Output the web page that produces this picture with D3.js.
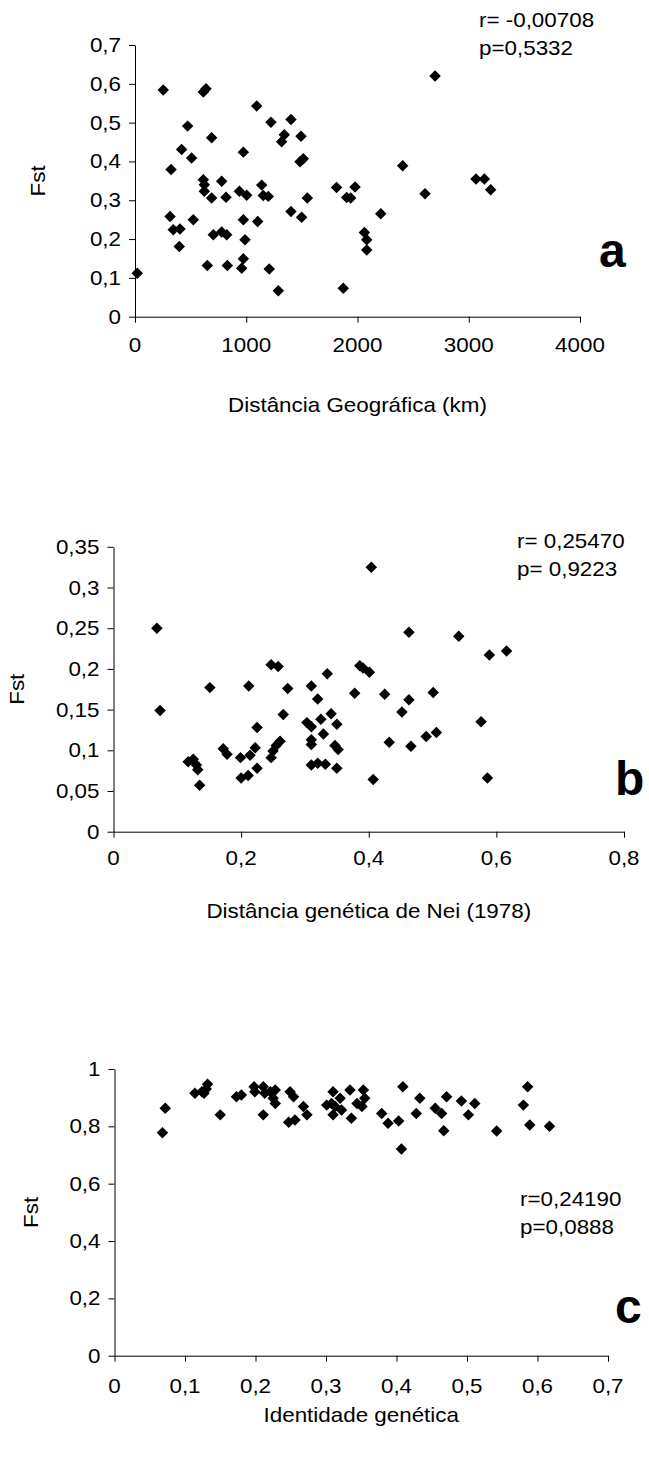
<!DOCTYPE html>
<html>
<head>
<meta charset="utf-8">
<script src="https://cdnjs.cloudflare.com/ajax/libs/d3/7.8.5/d3.min.js"></script>
<style>
  body { margin: 0; background: #fff; }
  svg text { font-family: "Liberation Sans", Arial, sans-serif; fill: #000; }
</style>
</head>
<body>
<svg id="chart" width="649" height="1457"></svg>
<script>
// panel a: Fst vs geographic distance
var distGeo = [20,254,315,324,344,404,398,419,473,509,524,614,623,623,614,638,650,689,689,704,
  779,779,818,824,830,938,959,974,974,974,989,1004,1094,1103,1139,1153,1198,1207,1222,1288,
  1318,1342,1402,1402,1483,1492,1498,1513,1549,1812,1872,1903,1939,1978,2062,2083,2083,2209,
  2406,2607,2697,3065,3140,3197];
var fstA = [0.112,0.584,0.258,0.379,0.224,0.226,0.181,0.431,0.491,0.409,0.25,0.353,0.34,0.323,
  0.579,0.587,0.132,0.461,0.306,0.211,0.349,0.218,0.308,0.211,0.132,0.323,0.125,0.149,0.424,0.25,
  0.198,0.313,0.543,0.245,0.339,0.312,0.31,0.123,0.501,0.067,0.451,0.469,0.508,0.271,0.399,0.465,
  0.256,0.407,0.306,0.333,0.073,0.307,0.306,0.334,0.217,0.198,0.172,0.265,0.389,0.317,0.62,0.355,
  0.355,0.327];

// panel b: Fst vs Nei genetic distance
var distNei = [0.068,0.073,0.117,0.125,0.130,0.132,0.135,0.151,0.172,0.178,0.199,0.200,0.211,0.212,
  0.214,0.222,0.225,0.225,0.247,0.247,0.250,0.255,0.258,0.261,0.266,0.273,0.303,0.310,0.310,0.310,
  0.310,0.310,0.320,0.320,0.329,0.325,0.332,0.335,0.341,0.350,0.347,0.352,0.350,0.378,0.386,0.391,
  0.401,0.404,0.407,0.425,0.432,0.452,0.463,0.463,0.466,0.490,0.501,0.506,0.541,0.576,0.586,0.589,
  0.616];
var fstB = [0.250,0.149,0.086,0.089,0.082,0.076,0.057,0.177,0.102,0.095,0.091,0.066,0.069,0.179,
  0.094,0.103,0.128,0.078,0.091,0.205,0.099,0.106,0.203,0.111,0.144,0.176,0.134,0.129,0.179,0.113,
  0.107,0.082,0.084,0.163,0.120,0.138,0.083,0.194,0.145,0.132,0.106,0.101,0.078,0.170,0.204,0.201,
  0.196,0.325,0.064,0.169,0.110,0.147,0.245,0.162,0.105,0.117,0.171,0.122,0.240,0.135,0.066,0.217,
  0.222];

// panel c: Fst vs genetic identity
var identGen = [0.068,0.072,0.114,0.124,0.127,0.132,0.130,0.150,0.173,0.180,0.198,0.199,0.211,0.213,
  0.221,0.228,0.225,0.228,0.211,0.249,0.254,0.247,0.268,0.273,0.256,0.301,0.308,0.310,0.310,0.313,
  0.320,0.322,0.334,0.336,0.344,0.351,0.353,0.355,0.379,0.388,0.403,0.407,0.409,0.428,0.433,0.455,
  0.464,0.467,0.471,0.492,0.502,0.511,0.542,0.580,0.586,0.589,0.617];
var fstC = [0.778,0.863,0.915,0.921,0.915,0.947,0.930,0.840,0.903,0.909,0.938,0.921,0.938,0.915,
  0.921,0.927,0.898,0.880,0.840,0.921,0.903,0.814,0.869,0.840,0.822,0.874,0.880,0.921,0.840,0.869,
  0.898,0.857,0.927,0.828,0.880,0.869,0.927,0.898,0.845,0.811,0.819,0.721,0.938,0.845,0.898,0.863,
  0.845,0.785,0.903,0.888,0.840,0.880,0.784,0.874,0.938,0.805,0.800];

// tick values
var xTicksA = [0,1000,2000,3000,4000];
var yTicksA = [0,0.1,0.2,0.3,0.4,0.5,0.6,0.7];
var xTicksB = [0,0.2,0.4,0.6,0.8];
var yTicksB = [0,0.05,0.1,0.15,0.2,0.25,0.3,0.35];
var xTicksC = [0,0.1,0.2,0.3,0.4,0.5,0.6,0.7];
var yTicksC = [0,0.2,0.4,0.6,0.8,1];

var FONT = 20;
var TEXT_SX = 1.12;   // the original labels are a bit wider than Arial

var comma = function(d) { return String(d).replace(".", ","); };

var svg = d3.select("#chart");
svg.append("rect").attr("width", 649).attr("height", 1457).attr("fill", "#fff");

var addText = function(g, x, y, str, anchor, size, weight, rot, sx) {
  var t = g.append("text")
    .attr("transform", "translate(" + x + "," + y + ")" + (rot ? " rotate(" + rot + ")" : "") +
      " scale(" + (sx || TEXT_SX) + ",1)")
    .attr("text-anchor", anchor)
    .attr("font-size", size)
    .text(str);
  if (weight) t.attr("font-weight", weight);
  return t;
};

var drawPanel = function(p) {
  var g = svg.append("g");
  var x = d3.scaleLinear().domain(p.xDomain).range([p.left, p.right]);
  var y = d3.scaleLinear().domain(p.yDomain).range([p.bottom, p.top]);

  var xAxis = g.append("g")
    .attr("transform", "translate(0," + p.bottom + ")")
    .call(d3.axisBottom(x).tickValues(p.xTicks).tickSize(6).tickSizeOuter(0).tickFormat(comma));
  var yAxis = g.append("g")
    .attr("transform", "translate(" + p.left + ",0)")
    .call(d3.axisLeft(y).tickValues(p.yTicks).tickSize(6).tickSizeOuter(0).tickFormat(comma));

  [xAxis, yAxis].forEach(function(a) {
    a.selectAll("path, line").attr("stroke", "#000").attr("stroke-width", 1);
    a.selectAll("text").remove();
  });
  // tick labels drawn by hand so they share the stretched text style
  p.xTicks.forEach(function(v) { addText(g, x(v), p.bottom + p.xLabelDy, comma(v), "middle", FONT); });
  p.yTicks.forEach(function(v) { addText(g, p.left - 14, y(v) + 7, comma(v), "end", FONT); });

  g.append("g").selectAll("path")
    .data(p.xs.map(function(d, i) { return [d, p.ys[i]]; }))
    .enter().append("path")
    .attr("d", d3.symbol(d3.symbolSquare, 66))
    .attr("transform", function(d) { return "translate(" + x(d[0]) + "," + y(d[1]) + ") rotate(45)"; })
    .attr("fill", "#000");

  addText(g, (p.left + p.right) / 2, p.bottom + p.titleDy, p.xTitle, "middle", FONT);
  addText(g, p.fstX, (p.top + p.bottom) / 2, "Fst", "middle", FONT, null, -90);
  addText(g, p.statX, p.statY, p.stat1, "start", FONT);
  addText(g, p.statX, p.statY + 28, p.stat2, "start", FONT);
  addText(g, p.letterX, p.letterY, p.letter, "start", 48, "bold", null, 1);
};

drawPanel({
  xs: distGeo, ys: fstA, xDomain: [0, 4000], yDomain: [0, 0.7],
  xTicks: xTicksA, yTicks: yTicksA,
  left: 135, right: 580, top: 45, bottom: 316.7,
  xLabelDy: 35, titleDy: 95, xTitle: "Distância Geográfica (km)",
  fstX: 45, statX: 479, statY: 27, stat1: "r= -0,00708", stat2: "p=0,5332",
  letter: "a", letterX: 599, letterY: 267
});

drawPanel({
  xs: distNei, ys: fstB, xDomain: [0, 0.8], yDomain: [0, 0.35],
  xTicks: xTicksB, yTicks: yTicksB,
  left: 113.5, right: 624, top: 546.8, bottom: 831.7,
  xLabelDy: 33, titleDy: 86, xTitle: "Distância genética de Nei (1978)",
  fstX: 24, statX: 517, statY: 548, stat1: "r= 0,25470", stat2: "p= 0,9223",
  letter: "b", letterX: 615, letterY: 795
});

drawPanel({
  xs: identGen, ys: fstC, xDomain: [0, 0.7], yDomain: [0, 1],
  xTicks: xTicksC, yTicks: yTicksC,
  left: 114.5, right: 608, top: 1069, bottom: 1355.7,
  xLabelDy: 37, titleDy: 66, xTitle: "Identidade genética",
  fstX: 38, statX: 520, statY: 1206, stat1: "r=0,24190", stat2: "p=0,0888",
  letter: "c", letterX: 615, letterY: 1323
});
</script>
</body>
</html>
